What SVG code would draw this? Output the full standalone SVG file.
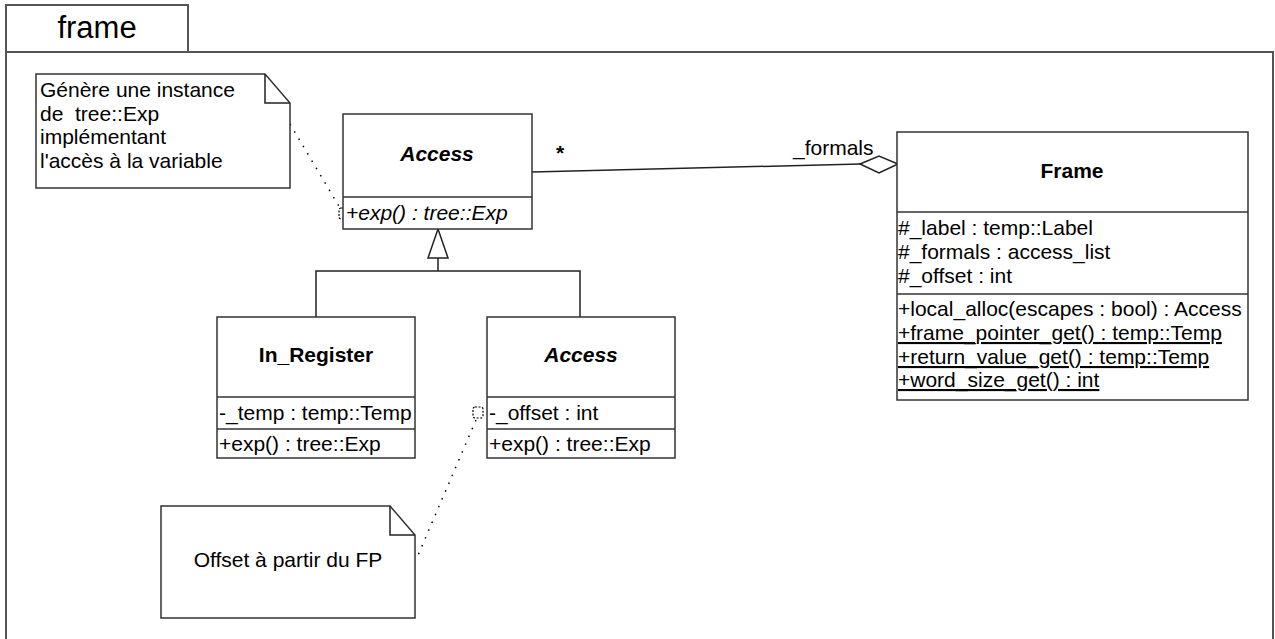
<svg xmlns="http://www.w3.org/2000/svg" width="1275" height="639" viewBox="0 0 1275 639">
  <defs>
    <style>
      .box { fill: #fff; stroke: #333; stroke-width: 1.5; }
      .sep { stroke: #333; stroke-width: 1.5; }
      .frm { fill: none; stroke: #555; stroke-width: 2; }
      .t { font-family: "Liberation Sans", Arial, sans-serif; font-size: 21px; fill: #000; }
      .title { font-weight: bold; text-anchor: middle; }
      .abs { font-style: italic; }
      .u { text-decoration: underline; }
      .line { fill: none; stroke: #222; stroke-width: 1.5; }
      .dot { fill: none; stroke: #000; stroke-width: 1.5; stroke-dasharray: 1.5 7; }
      .anchor { fill: none; stroke: #000; stroke-width: 1.2; stroke-dasharray: 2 1.5; }
    </style>
  </defs>
  <rect width="1275" height="639" fill="#fff"/>

  <!-- package frame with its name tab -->
  <g id="package-frame">
    <rect class="frm" x="6" y="5" width="182" height="47"/>
    <path class="frm" d="M188,52 H1273 V645 M6,52 V645"/>
    <text class="t" x="97" y="38" text-anchor="middle" style="font-size:31px">frame</text>
  </g>

  <!-- connectors -->
  <g id="connectors">
    <!-- generalization to abstract Access -->
    <path class="line" d="M316,317 V271 H580 V317 M438,271 V258"/>
    <polygon points="438,229 428,258 448,258" fill="#fff" stroke="#222" stroke-width="1.5"/>
    <!-- aggregation: Frame holds the Access list -->
    <path class="line" d="M532,172 L860,164"/>
    <polygon points="860,164 879,156 898,164 879,173" fill="#fff" stroke="#222" stroke-width="1.5"/>
    <text class="t" x="556" y="160" style="font-weight:bold">*</text>
    <text class="t" x="793" y="155">_formals</text>
    <!-- note anchors -->
    <path class="dot" d="M290,124 L340,208"/>
    <rect class="anchor" x="339" y="208" width="8" height="11" rx="2"/>
    <path class="dot" d="M476,420 L416,560"/>
    <rect class="anchor" x="473" y="407" width="10" height="11" rx="2"/>
  </g>

  <!-- note on exp() -->
  <g id="note-exp">
    <path class="box" d="M36,74 H265 L290,103 V188 H36 Z"/>
    <path class="line" d="M265,74 V103 H290" stroke-width="1"/>
    <text class="t" x="40" y="97">Génère une instance</text>
    <text class="t" x="40" y="121" xml:space="preserve">de  tree::Exp</text>
    <text class="t" x="40" y="144">implémentant</text>
    <text class="t" x="40" y="168">l'accès à la variable</text>
  </g>

  <!-- abstract class Access -->
  <g id="class-access">
    <rect class="box" x="343" y="114" width="189" height="115"/>
    <line class="sep" x1="343" y1="197" x2="532" y2="197"/>
    <text class="t title abs" x="437" y="161">Access</text>
    <text class="t abs" x="346" y="220">+exp() : tree::Exp</text>
  </g>

  <!-- class In_Register -->
  <g id="class-in-register">
    <rect class="box" x="217" y="317" width="198" height="141"/>
    <line class="sep" x1="217" y1="397" x2="415" y2="397"/>
    <line class="sep" x1="217" y1="429" x2="415" y2="429"/>
    <text class="t title" x="316" y="362">In_Register</text>
    <text class="t" x="219" y="420">-_temp : temp::Temp</text>
    <text class="t" x="219" y="451">+exp() : tree::Exp</text>
  </g>

  <!-- class Access (frame-based) -->
  <g id="class-in-frame">
    <rect class="box" x="487" y="317" width="188" height="141"/>
    <line class="sep" x1="487" y1="397" x2="675" y2="397"/>
    <line class="sep" x1="487" y1="429" x2="675" y2="429"/>
    <text class="t title abs" x="581" y="362">Access</text>
    <text class="t" x="489" y="420">-_offset : int</text>
    <text class="t" x="489" y="451">+exp() : tree::Exp</text>
  </g>

  <!-- class Frame -->
  <g id="class-frame">
    <rect class="box" x="897" y="132" width="351" height="268"/>
    <line class="sep" x1="897" y1="212" x2="1248" y2="212"/>
    <line class="sep" x1="897" y1="294" x2="1248" y2="294"/>
    <text class="t title" x="1072" y="178">Frame</text>
    <text class="t" x="898" y="235">#_label : temp::Label</text>
    <text class="t" x="898" y="259">#_formals : access_list</text>
    <text class="t" x="898" y="283">#_offset : int</text>
    <text class="t" x="898" y="316">+local_alloc(escapes : bool) : Access</text>
    <text class="t u" x="898" y="340">+frame_pointer_get() : temp::Temp</text>
    <text class="t u" x="898" y="364">+return_value_get() : temp::Temp</text>
    <text class="t u" x="898" y="387">+word_size_get() : int</text>
  </g>

  <!-- note on _offset -->
  <g id="note-offset">
    <path class="box" d="M161,506 H390 L415,535 V618 H161 Z"/>
    <path class="line" d="M390,506 V535 H415" stroke-width="1"/>
    <text class="t" x="288" y="567" text-anchor="middle">Offset à partir du FP</text>
  </g>
</svg>
